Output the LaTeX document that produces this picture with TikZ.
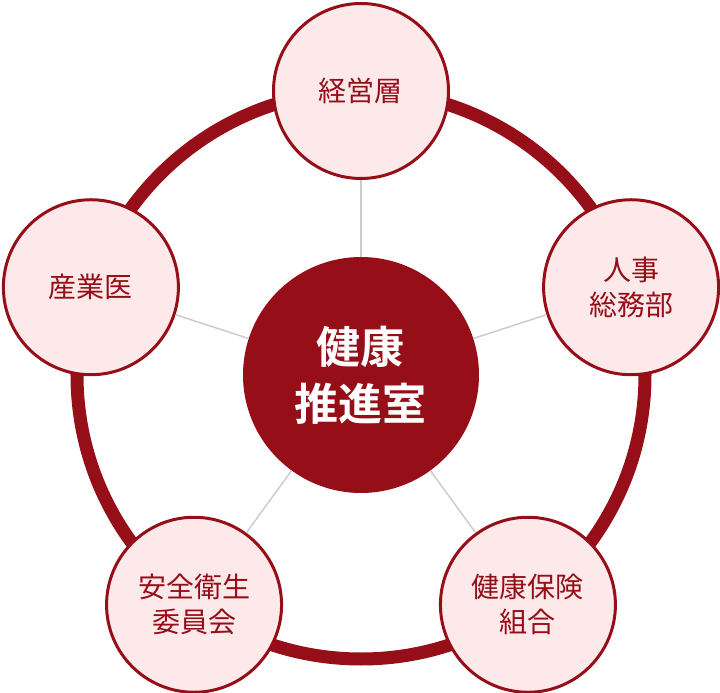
\documentclass[tikz,border=0pt]{standalone}
\usepackage{fontspec}
\newfontfamily\jp{Noto Sans CJK JP}[BoldFont={Noto Sans CJK JP Bold}]
\usepackage{tikz}
\usetikzlibrary{positioning}
\definecolor{rosso}{HTML}{960F18}
\definecolor{rosa}{HTML}{FDE8EA}
\definecolor{grigio}{HTML}{CCCCCC}

\begin{document}
\begin{tikzpicture}[x=1pt, y=1pt,
			% Definizione dello stile per il cerchio centrale
			centro/.style={circle, fill=rosso, text=white, minimum size=236pt, inner sep=0pt, align=center, font=\jp\bfseries\fontsize{44}{57}\selectfont},
			% Definizione dello stile per i cerchi esterni
			membro/.style={circle, draw=rosso, fill=rosa, line width=3pt, minimum size=175pt, inner sep=0pt, align=center, text=rosso, font=\jp\fontsize{28}{35}\selectfont},
			% Definizione dello stile per i collegamenti
			raggio/.style={draw=grigio, line width=1.5pt}
			]
			\useasboundingbox (-361,-318) rectangle (359,375);
			
			% --- ANELLO ESTERNO ---
			\draw [rosso, line width=13pt] (0,0) circle (284);
			
			% --- NODI ---
			\node [centro] (centro) at (0,0) {健康\\推進室};
			\node [membro] (dirigenza) at (90:284) {経営層};
			\node [membro] (personale) at (18:284) {人事\\総務部};
			\node [membro] (assicurazione) at (-54:284) {健康保険\\組合};
			\node [membro] (sicurezza) at (-126:284) {安全衛生\\委員会};
			\node [membro] (medico) at (162:284) {産業医};
			
			% --- COLLEGAMENTI ---
			\foreach \m in {dirigenza, personale, assicurazione, sicurezza, medico}
				\draw [raggio] (centro) -- (\m);
			
		\end{tikzpicture}
\end{document}
